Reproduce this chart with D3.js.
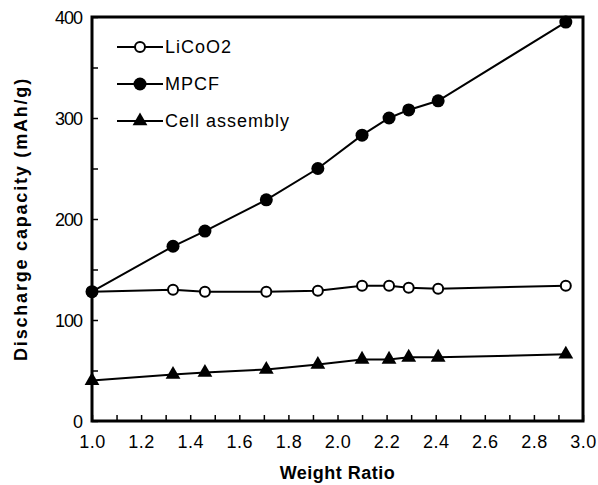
<!DOCTYPE html>
<html>
<head>
<meta charset="utf-8">
<script src="https://cdn.jsdelivr.net/npm/d3@7"></script>
<style>
  body { margin: 0; background: #fff; }
  text { font-family: "Liberation Sans", Arial, sans-serif; fill: #000; }
</style>
</head>
<body>
<div id="chart"></div>
<script>
// weight ratio on x, capacity on y
const ratios = [1.0, 1.33, 1.46, 1.71, 1.92, 2.10, 2.21, 2.29, 2.41, 2.93];
const licoo2 = [128, 130, 128, 128, 129, 134, 134, 132, 131, 134];
const mpcf = [128, 173, 188, 219, 250, 283, 300, 308, 317, 395];
const cellAssembly = [40, 46, 48, 51, 56, 61, 61, 63, 63, 66];
const seriesNames = ['LiCoO2', 'MPCF', 'Cell assembly'];
const xTicks = [1.0, 1.2, 1.4, 1.6, 1.8, 2.0, 2.2, 2.4, 2.6, 2.8, 3.0];
const yTicks = [0, 100, 200, 300, 400];

const width = 598, height = 485;
const margin = { left: 92, right: 15, top: 17, bottom: 64 };
const w = width - margin.left - margin.right;
const h = height - margin.top - margin.bottom;

const svg = d3.select('#chart').append('svg')
  .attr('width', width)
  .attr('height', height);

const g = svg.append('g')
  .attr('transform', `translate(${margin.left},${margin.top})`);

const x = d3.scaleLinear().domain([1.0, 3.0]).range([0, w]);
const y = d3.scaleLinear().domain([0, 400]).range([h, 0]);

// axes with inward ticks
const xAxis = g.append('g')
  .attr('transform', `translate(0,${h})`)
  .call(d3.axisBottom(x).tickValues(d3.range(1.0, 3.001, 0.1)).tickSizeInner(-6).tickSizeOuter(0)
    .tickPadding(14).tickFormat(d => xTicks.some(t => Math.abs(t - d) < 1e-6) ? d.toFixed(1) : ''));
xAxis.select('.domain').remove();
xAxis.selectAll('.tick line').attr('stroke', '#000').attr('stroke-width', 1.5);
xAxis.selectAll('.tick text').style('font-size', '18px').style('letter-spacing', '0.5px');

const yAxis = g.append('g')
  .call(d3.axisLeft(y).tickValues(d3.range(0, 401, 50)).tickSizeInner(-6).tickSizeOuter(0)
    .tickPadding(10).tickFormat(d => yTicks.includes(d) ? d : ''));
yAxis.select('.domain').remove();
yAxis.selectAll('.tick line').attr('stroke', '#000').attr('stroke-width', 1.5);
yAxis.selectAll('.tick text').style('font-size', '18px').attr('dy', '0.35em').style('letter-spacing', '-1px');

// frame
g.append('rect')
  .attr('x', 0).attr('y', 0).attr('width', w).attr('height', h)
  .attr('fill', 'none').attr('stroke', '#000').attr('stroke-width', 3);

// lines
const line = d3.line()
  .x((d, i) => x(ratios[i]))
  .y(d => y(d));

const data = [licoo2, mpcf, cellAssembly];
data.forEach(vals => {
  g.append('path')
    .datum(vals)
    .attr('d', line)
    .attr('fill', 'none')
    .attr('stroke', '#000')
    .attr('stroke-width', 2);
});

const tri = d3.symbol().type(d3.symbolTriangle).size(95);

function drawMarker(sel, k, cx, cy) {
  if (k === 0) {
    sel.append('circle').attr('cx', cx).attr('cy', cy).attr('r', 5)
      .attr('fill', '#fff').attr('stroke', '#000').attr('stroke-width', 2);
  } else if (k === 1) {
    sel.append('circle').attr('cx', cx).attr('cy', cy).attr('r', 6.5).attr('fill', '#000');
  } else {
    sel.append('path').attr('d', tri).attr('transform', `translate(${cx},${cy})`).attr('fill', '#000');
  }
}

data.forEach((vals, k) => {
  vals.forEach((v, i) => drawMarker(g, k, x(ratios[i]), y(v)));
});

// legend
const legend = g.append('g').attr('transform', 'translate(25,30)');
seriesNames.forEach((name, k) => {
  const ly = k * 37;
  legend.append('line').attr('x1', 0).attr('x2', 46).attr('y1', ly).attr('y2', ly)
    .attr('stroke', '#000').attr('stroke-width', 2);
  drawMarker(legend, k, 23, ly);
  legend.append('text').attr('x', 48).attr('y', ly).attr('dy', '0.35em')
    .style('font-size', '18px').style('letter-spacing', '1px').text(name);
});

// axis titles
svg.append('text')
  .attr('x', margin.left + w / 2).attr('y', 479)
  .attr('text-anchor', 'middle')
  .style('font-size', '18px').style('font-weight', 'bold').style('letter-spacing', '0.5px')
  .text('Weight Ratio');

svg.append('text')
  .attr('transform', `translate(27,${margin.top + h / 2}) rotate(-90)`)
  .attr('text-anchor', 'middle')
  .style('font-size', '18px').style('font-weight', 'bold').style('letter-spacing', '1.8px')
  .text('Discharge capacity (mAh/g)');
</script>
</body>
</html>
